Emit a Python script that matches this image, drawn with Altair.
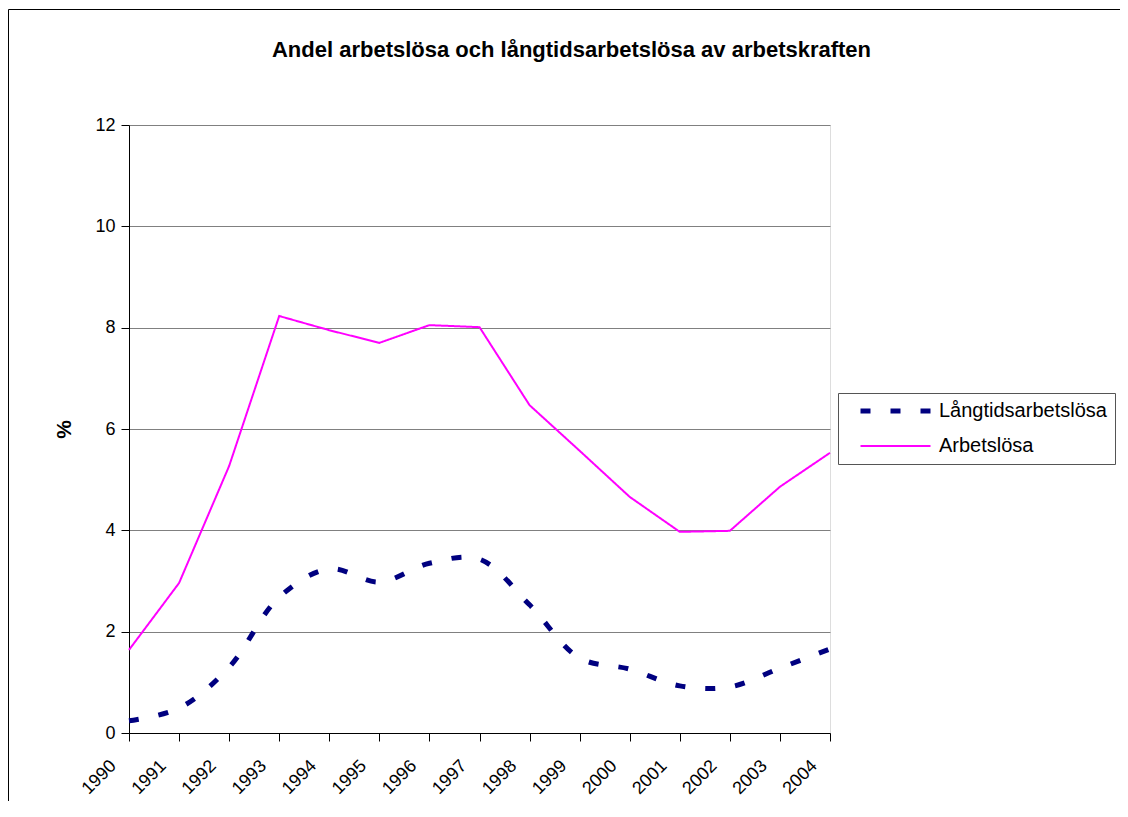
import altair as alt
import pandas as pd

years = list(range(1990, 2005))
arbetslosa = [1.64, 2.96, 5.27, 8.23, 7.95, 7.70, 8.05, 8.01, 6.47, 5.57, 4.66, 3.97, 3.99, 4.86, 5.53]
langtid = [0.24, 0.49, 1.30, 2.68, 3.24, 2.98, 3.35, 3.43, 2.53, 1.48, 1.26, 0.93, 0.91, 1.28, 1.66]
series_names = ["Långtidsarbetslösa", "Arbetslösa"]
y_ticks = [0, 2, 4, 6, 8, 10, 12]

df = pd.DataFrame(
    {"year": years * 2,
     "serie": [series_names[0]] * len(years) + [series_names[1]] * len(years),
     "value": langtid + arbetslosa}
)

FONT = "Liberation Sans"

x_enc = alt.X(
    "year:O",
    scale=alt.Scale(type="point", padding=0),
    axis=alt.Axis(
        title=None, labelAngle=-45, labelAlign="right", labelBaseline="middle",
        labelPadding=22, labelOffset=-16, tickSize=8, labelFontSize=18,
        labelFont=FONT, labelColor="#000000", domainColor="#000000",
        tickColor="#000000", grid=False,
    ),
)
y_enc = alt.Y(
    "value:Q",
    scale=alt.Scale(domain=[0, 12], nice=False),
    axis=alt.Axis(
        title="%", values=y_ticks, tickSize=8, labelPadding=6, labelFontSize=18,
        labelFont=FONT, labelColor="#000000", domainColor="#000000",
        tickColor="#000000", grid=True, gridColor="#808080", gridWidth=1,
        titleFont=FONT, titleFontSize=21, titleFontWeight="bold", titlePadding=20,
        titleColor="#000000",
    ),
)
color_enc = alt.Color(
    "serie:N",
    title=None,
    scale=alt.Scale(domain=series_names, range=["#000080", "#FF00FF"]),
    legend=alt.Legend(
        orient="none", legendX=709, legendY=268, symbolType="stroke",
        symbolSize=4900, labelFontSize=20, labelFont=FONT, labelColor="#000000",
        labelLimit=400,
        strokeColor="#555555", fillColor="#FFFFFF", padding=8, symbolOffset=12,
        labelOffset=6, rowPadding=15, clipHeight=20,
    ),
)
dash_enc = alt.StrokeDash(
    "serie:N", title=None,
    scale=alt.Scale(domain=series_names, range=[[10, 20], [1, 0]]),
)
width_enc = alt.StrokeWidth(
    "serie:N", title=None,
    scale=alt.Scale(domain=series_names, range=[5, 2]),
)

base = alt.Chart(df).encode(x=x_enc, y=y_enc, color=color_enc,
                            strokeDash=dash_enc, strokeWidth=width_enc)

long_line = base.transform_filter(alt.datum.serie == series_names[0]).mark_line(
    interpolate="catmull-rom", strokeCap="butt")
all_line = base.transform_filter(alt.datum.serie == series_names[1]).mark_line()

frame_src = pd.DataFrame({"a": [0]})
frame_top = alt.Chart(frame_src).mark_rule(stroke="#000000", strokeWidth=1).encode(
    x=alt.value(-120.5), x2=alt.value(1000), y=alt.value(-115.5))
frame_left = alt.Chart(frame_src).mark_rule(stroke="#000000", strokeWidth=1).encode(
    x=alt.value(-120.5), y=alt.value(-115.5), y2=alt.value(800))

chart = alt.layer(frame_top, frame_left, all_line, long_line).properties(
    width=701, height=608,
    autosize=alt.AutoSizeParams(type="none"),
    padding={"left": 121, "top": 117, "right": 290, "bottom": 68},
    title=alt.Title(
        "Andel arbetslösa och långtidsarbetslösa av arbetskraften",
        font=FONT, fontSize=22, fontWeight="bold", color="#000000",
        anchor="middle", dx=92, offset=-70, baseline="alphabetic",
    ),
).configure_view(stroke="#808080", strokeWidth=1).configure_title(
    limit=2000
).configure(background="#FFFFFF")

chart.save("out.html", embed_options={"renderer": "svg", "actions": False})
